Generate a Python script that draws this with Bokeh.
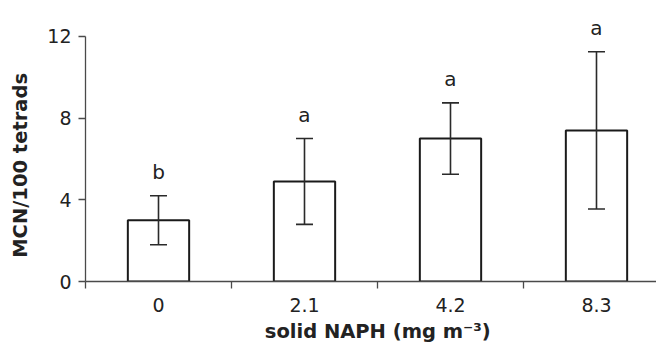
from bokeh.plotting import figure
from bokeh.models import Range1d, FixedTicker, ColumnDataSource, Whisker, TeeHead
from bokeh.core.properties import value
from bokeh.embed import file_html
from bokeh.resources import INLINE

# ---- data ----
doses = ["0", "2.1", "4.2", "8.3"]
means = [3.0, 4.9, 7.0, 7.4]
errors = [1.2, 2.1, 1.75, 3.85]
letters = ["b", "a", "a", "a"]
y_ticks = [0, 4, 8, 12]
x_title = "solid NAPH (mg m\u207b\u00b3)"
y_title = "MCN/100 tetrads"

FONT = "DejaVu Sans"
AX = "#4a4a4a"
TXT = "#222222"
YMAX = 13.37
NB = "\u00a0"

xs = [i + 0.5 for i in range(len(doses))]
src = ColumnDataSource(dict(
    x=xs, top=means,
    lower=[m - e for m, e in zip(means, errors)],
    upper=[m + e for m, e in zip(means, errors)],
    letter=letters,
))

p = figure(width=656, height=347, output_backend="svg", toolbar_location=None,
           x_range=Range1d(0, 3.911), y_range=Range1d(0, YMAX),
           min_border_left=85, min_border_right=0, min_border_top=8, min_border_bottom=66)
p.outline_line_color = None
p.grid.visible = False
p.background_fill_color = "white"
p.border_fill_color = "white"

p.vbar(x="x", top="top", bottom=0, width=0.42, source=src,
       fill_color="white", line_color="#1a1a1a", line_width=2)

w = Whisker(base="x", lower="lower", upper="upper", source=src, level="overlay",
            line_color="#2a2a2a", line_width=1.6,
            upper_head=TeeHead(size=17, line_color="#2a2a2a", line_width=1.6),
            lower_head=TeeHead(size=17, line_color="#2a2a2a", line_width=1.6))
p.add_layout(w)

p.text(x="x", y="upper", text="letter", source=src, y_offset=-24,
       text_align="center", text_baseline="alphabetic",
       text_font=value(FONT), text_font_size="20px", text_color=TXT)

# x axis
xa = p.xaxis[0]
xa.ticker = FixedTicker(ticks=xs, minor_ticks=[0, 1, 2, 3])
xa.major_label_overrides = {x: d for x, d in zip(xs, doses)}
xa.major_tick_out = 0
xa.major_tick_in = 0
xa.minor_tick_out = 7
xa.minor_tick_in = 0
xa.minor_tick_line_color = AX
xa.minor_tick_line_width = 1.3
xa.axis_line_color = AX
xa.axis_line_width = 1.3
xa.major_label_standoff = 9
xa.major_label_text_font = FONT
xa.major_label_text_font_size = "19px"
xa.major_label_text_color = TXT
xa.axis_label = NB * 2 + x_title
xa.axis_label_text_font = FONT
xa.axis_label_text_font_size = "19.5px"
xa.axis_label_text_font_style = "bold"
xa.axis_label_text_color = TXT
xa.axis_label_standoff = 5

# y axis
ya = p.yaxis[0]
ya.ticker = FixedTicker(ticks=y_ticks, minor_ticks=[])
ya.bounds = (0, 12)
ya.major_tick_out = 7
ya.major_tick_in = 0
ya.major_tick_line_color = AX
ya.major_tick_line_width = 1.3
ya.axis_line_color = AX
ya.axis_line_width = 1.3
ya.major_label_standoff = 7
ya.major_label_text_font = FONT
ya.major_label_text_font_size = "19px"
ya.major_label_text_color = TXT
ya.axis_label = y_title + NB * 6
ya.axis_label_text_font = FONT
ya.axis_label_text_font_size = "19.5px"
ya.axis_label_text_font_style = "bold"
ya.axis_label_text_color = TXT
ya.axis_label_standoff = 12

open("out.html", "w").write(file_html(p, INLINE))
